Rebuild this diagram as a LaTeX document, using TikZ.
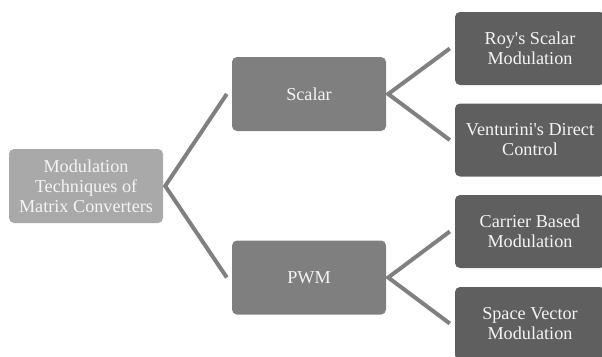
\documentclass[tikz,border=0pt]{standalone}
\usepackage{fontspec}
\setmainfont{Liberation Serif}
\usetikzlibrary{calc}
\definecolor{rootgray}{HTML}{A9A9A9}
\definecolor{midgray}{HTML}{7F7F7F}
\definecolor{leafgray}{HTML}{5F5F5F}
\definecolor{linkgray}{HTML}{808080}
\definecolor{labelwhite}{HTML}{F4F4F4}
\tikzset{
  box/.style={rectangle, rounded corners=5pt, inner sep=0pt, align=center,
    text=labelwhite, font=\fontsize{18.2}{20}\selectfont},
  rootbox/.style={box, fill=rootgray, minimum width=154pt, minimum height=74pt},
  midbox/.style={box, fill=midgray, minimum width=154pt, minimum height=74pt},
  leafbox/.style={box, fill=leafgray, minimum width=150pt, minimum height=73pt},
  link/.style={draw=linkgray, line width=4pt, line join=miter}
}
\begin{document}
\begin{tikzpicture}[x=1pt, y=-1pt]
  \useasboundingbox (0,0) rectangle (602,356);
  \clip (0,0) rectangle (602,356);

  % boxes
  \node[rootbox] (root) at (86,186) {Modulation\\Techniques of\\Matrix Converters};
  \node[midbox] (scalar) at (309,94) {Scalar};
  \node[midbox] (pwm) at (309,277.5) {PWM};
  \node[leafbox] (roy) at (530,48.5) {Roy\textquotesingle s Scalar\\Modulation};
  \node[leafbox] (vent) at (530,140) {Venturini\textquotesingle s Direct\\Control};
  \node[leafbox] (carrier) at (530,231.5) {Carrier Based\\Modulation};
  \node[leafbox] (svm) at (530,323.5) {Space Vector\\Modulation};

  % connectors
  \draw[link] ($(scalar.west)+(-5,0)$) -- ($(root.east)+(2,0)$) -- ($(pwm.west)+(-5,0)$);
  \draw[link] ($(roy.west)+(-5,0)$) -- ($(scalar.east)+(2,0)$) -- ($(vent.west)+(-5,0)$);
  \draw[link] ($(carrier.west)+(-5,0)$) -- ($(pwm.east)+(2,0)$) -- ($(svm.west)+(-5,0)$);
\end{tikzpicture}
\end{document}
